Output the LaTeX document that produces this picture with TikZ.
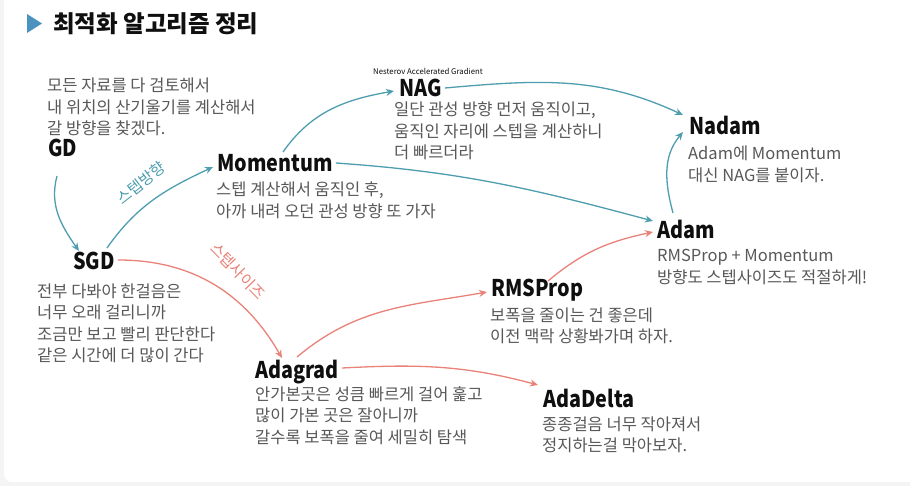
\documentclass[tikz,border=0pt]{standalone}
\usepackage{fontspec}
\setmainfont{Noto Sans CJK KR}
\newfontfamily\ttlfont[FakeStretch=0.86]{Noto Sans CJK KR}
\usetikzlibrary{arrows.meta}
\definecolor{tealc}{RGB}{78,158,176}
\definecolor{redc}{RGB}{233,130,120}
\definecolor{descc}{RGB}{88,88,88}
\definecolor{titc}{RGB}{15,15,15}
\definecolor{tric}{RGB}{76,146,190}
\definecolor{framec}{RGB}{244,244,244}
\begin{document}
\begin{tikzpicture}[x=1pt,y=-1pt,
  ttl/.style={anchor=base west, inner sep=0pt, font=\ttlfont\fontsize{23}{26}\selectfont\bfseries, text=titc},
  desc/.style={anchor=base west, inner sep=0pt, font=\fontsize{16.5}{21.5}\selectfont, text=descc, align=left},
  tarr/.style={draw=tealc, line width=1.3pt, -{Stealth[length=8pt,width=7pt]}},
  rarr/.style={draw=redc, line width=1.3pt, -{Stealth[length=8pt,width=7pt]}},
  lbl/.style={inner sep=0pt, font=\fontsize{15.5}{17}\selectfont},
]
\path[use as bounding box] (0,0) rectangle (910,486);
\fill[framec] (0,0) rectangle (910,486);
\fill[white, rounded corners=8pt] (4,-12) rectangle (922,482);

% heading
\fill[tric] (27,14) -- (42,23.5) -- (27,33) -- cycle;
\node[anchor=base west, inner sep=0pt, font=\fontsize{23.5}{26}\selectfont\bfseries, text=titc] (head) at (53,33) {최적화 알고리즘 정리};

% nodes (description nodes are placed by the baseline of their last line)
\node[desc] (gdd) at (47,135) {모든 자료를 다 검토해서\\내 위치의 산기울기를 계산해서\\갈 방향을 찾겠다.};
\node[ttl] (gd) at (48,157) {GD};

\node[ttl] (mom) at (217,172) {Momentum};
\node[desc] (momd) at (216,217.5) {스텝 계산해서 움직인 후,\\아까 내려 오던 관성 방향 또 가자};

\node[anchor=base west, inner sep=0pt, font=\fontsize{7.8}{9}\selectfont, text=titc] (nags) at (373,75) {Nesterov Accelerated Gradient};
\node[ttl] (nag) at (399,97) {NAG};
\node[desc] (nagd) at (394,159) {일단 관성 방향 먼저 움직이고,\\움직인 자리에 스텝을 계산하니\\더 빠르더라};

\node[ttl] (nadam) at (689,135) {Nadam};
\node[desc] (nadamd) at (688,181.5) {Adam에 Momentum\\대신 NAG를 붙이자.};

\node[ttl] (adam) at (657,239) {Adam};
\node[desc] (adamd) at (657,283.5) {RMSProp + Momentum\\방향도 스텝사이즈도 적절하게!};

\node[ttl] (sgd) at (73,270) {SGD};
\node[desc] (sgdd) at (37,361.5) {전부 다봐야 한걸음은\\너무 오래 걸리니까\\조금만 보고 빨리 판단한다\\같은 시간에 더 많이 간다};

\node[ttl] (rms) at (491,297) {RMSProp};
\node[desc] (rmsd) at (490,342.5) {보폭을 줄이는 건 좋은데\\이전 맥락 상황봐가며 하자.};

\node[ttl] (adag) at (255,378) {Adagrad};
\node[desc] (adagd) at (255,443) {안가본곳은 성큼 빠르게 걸어 훑고\\많이 가본 곳은 잘아니까\\갈수록 보폭을 줄여 세밀히 탐색};

\node[ttl] (adad) at (543,407) {AdaDelta};
\node[desc] (adadd) at (542,451.5) {종종걸음 너무 작아져서\\정지하는걸 막아보자.};

% teal connectors
\draw[tarr] ([shift={(9,19)}]gd.base west) to[out=-105,in=125] ([shift={(6,-19)}]sgd.base west);
\draw[tarr] ([shift={(34,-22)}]sgd.base west) to[out=55,in=205] ([shift={(-4,-5)}]mom.base west);
\draw[tarr] ([shift={(66,-20)}]mom.base west) to[out=55,in=190] ([shift={(-5,-6)}]nag.base west);
\draw[tarr] ([shift={(3,-9)}]nag.base east) to[out=5,in=155] ([shift={(-6,-20)}]nadam.base west);
\draw[tarr] ([shift={(16,-26)}]adam.base west) to[out=105,in=-130] ([shift={(-6,-3)}]nadam.base west);
\draw[tarr] ([shift={(3,-9)}]mom.base east) to[out=-4,in=165] ([shift={(-4,-18)}]adam.base west);
\node[lbl, text=tealc, rotate=38] (lbdir) at (141,183) {스텝방향};

% red connectors
\draw[rarr] ([shift={(3,-10)}]sgd.base east) to[out=0,in=120] ([shift={(27,-20)}]adag.base west);
\draw[rarr] ([shift={(42,-21)}]adag.base west) to[out=40,in=190] ([shift={(-4,-5)}]rms.base west);
\draw[rarr] ([shift={(57,-16)}]rms.base west) to[out=40,in=192] ([shift={(-4,-7)}]adam.base west);
\draw[rarr] ([shift={(3,-10)}]adag.base east) to[out=3,in=165] ([shift={(-5,-22)}]adad.base west);
\node[lbl, text=redc, rotate=-46] (lbsize) at (238,271) {스텝사이즈};
\end{tikzpicture}
\end{document}
